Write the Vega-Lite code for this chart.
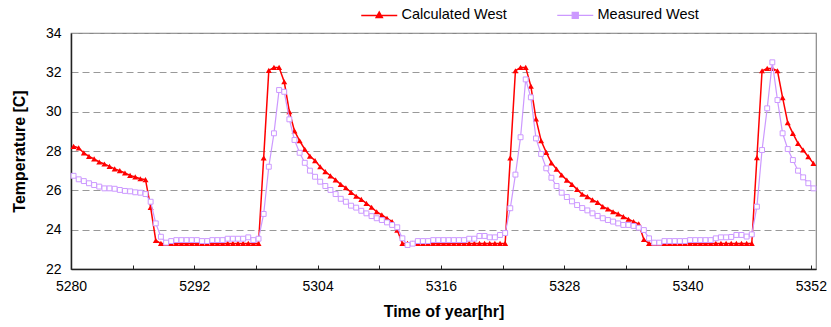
{
"$schema": "https://vega.github.io/schema/vega-lite/v6.json",
"width": 745, "height": 236,
"autosize": {"type": "none"},
"padding": {"left": 71, "top": 33, "right": 15, "bottom": 58},
"background": "white",
"config": {"font": "Liberation Sans", "view": {"stroke": "#888888", "strokeWidth": 1.2}},
"datasets": {
"calc": [
{"t":5280.25,"v":28.24},{"t":5280.75,"v":28.16},{"t":5281.25,"v":27.9},{"t":5281.75,"v":27.73},{"t":5282.25,"v":27.6},{"t":5282.75,"v":27.44},{"t":5283.25,"v":27.34},{"t":5283.75,"v":27.22},{"t":5284.25,"v":27.09},{"t":5284.75,"v":27.0},{"t":5285.25,"v":26.88},{"t":5285.75,"v":26.76},{"t":5286.25,"v":26.68},{"t":5286.75,"v":26.59},{"t":5287.25,"v":26.54},{"t":5287.75,"v":25.13},{"t":5288.25,"v":23.45},
{"t":5288.75,"v":23.3},{"t":5289.25,"v":23.3},{"t":5289.75,"v":23.3},{"t":5290.25,"v":23.3},{"t":5290.75,"v":23.3},{"t":5291.25,"v":23.3},{"t":5291.75,"v":23.3},{"t":5292.25,"v":23.3},{"t":5292.75,"v":23.3},{"t":5293.25,"v":23.3},{"t":5293.75,"v":23.3},{"t":5294.25,"v":23.3},{"t":5294.75,"v":23.3},{"t":5295.25,"v":23.3},{"t":5295.75,"v":23.3},{"t":5296.25,"v":23.3},{"t":5296.75,"v":23.3},{"t":5297.25,"v":23.3},{"t":5297.75,"v":23.3},{"t":5298.25,"v":23.3},
{"t":5298.75,"v":27.65},{"t":5299.25,"v":32.1},{"t":5299.75,"v":32.25},{"t":5300.25,"v":32.25},{"t":5300.75,"v":31.52},{"t":5301.25,"v":30.0},{"t":5301.75,"v":29.02},{"t":5302.25,"v":28.52},{"t":5302.75,"v":28.09},{"t":5303.25,"v":27.74},{"t":5303.75,"v":27.51},{"t":5304.25,"v":27.2},{"t":5304.75,"v":26.95},{"t":5305.25,"v":26.74},{"t":5305.75,"v":26.53},{"t":5306.25,"v":26.3},{"t":5306.75,"v":26.13},{"t":5307.25,"v":25.9},{"t":5307.75,"v":25.7},{"t":5308.25,"v":25.54},{"t":5308.75,"v":25.34},{"t":5309.25,"v":25.14},{"t":5309.75,"v":24.91},{"t":5310.25,"v":24.75},{"t":5310.75,"v":24.58},{"t":5311.25,"v":24.41},{"t":5311.75,"v":23.98},
{"t":5312.25,"v":23.3},{"t":5312.75,"v":23.3},{"t":5313.25,"v":23.3},{"t":5313.75,"v":23.3},{"t":5314.25,"v":23.3},{"t":5314.75,"v":23.3},{"t":5315.25,"v":23.3},{"t":5315.75,"v":23.3},{"t":5316.25,"v":23.3},{"t":5316.75,"v":23.3},{"t":5317.25,"v":23.3},{"t":5317.75,"v":23.3},{"t":5318.25,"v":23.3},{"t":5318.75,"v":23.3},{"t":5319.25,"v":23.3},{"t":5319.75,"v":23.3},{"t":5320.25,"v":23.3},{"t":5320.75,"v":23.3},{"t":5321.25,"v":23.3},{"t":5321.75,"v":23.3},{"t":5322.25,"v":23.3},
{"t":5322.75,"v":27.65},{"t":5323.25,"v":32.08},{"t":5323.75,"v":32.25},{"t":5324.25,"v":32.25},{"t":5324.75,"v":31.3},{"t":5325.25,"v":29.63},{"t":5325.75,"v":28.52},{"t":5326.25,"v":27.93},{"t":5326.75,"v":27.4},{"t":5327.25,"v":27.08},{"t":5327.75,"v":26.78},{"t":5328.25,"v":26.52},{"t":5328.75,"v":26.3},{"t":5329.25,"v":26.05},{"t":5329.75,"v":25.8},{"t":5330.25,"v":25.68},{"t":5330.75,"v":25.51},{"t":5331.25,"v":25.39},{"t":5331.75,"v":25.17},{"t":5332.25,"v":25.05},{"t":5332.75,"v":24.91},{"t":5333.25,"v":24.8},{"t":5333.75,"v":24.66},{"t":5334.25,"v":24.53},{"t":5334.75,"v":24.41},{"t":5335.25,"v":24.29},{"t":5335.75,"v":23.5},
{"t":5336.25,"v":23.3},{"t":5336.75,"v":23.3},{"t":5337.25,"v":23.3},{"t":5337.75,"v":23.3},{"t":5338.25,"v":23.3},{"t":5338.75,"v":23.3},{"t":5339.25,"v":23.3},{"t":5339.75,"v":23.3},{"t":5340.25,"v":23.3},{"t":5340.75,"v":23.3},{"t":5341.25,"v":23.3},{"t":5341.75,"v":23.3},{"t":5342.25,"v":23.3},{"t":5342.75,"v":23.3},{"t":5343.25,"v":23.3},{"t":5343.75,"v":23.3},{"t":5344.25,"v":23.3},{"t":5344.75,"v":23.3},{"t":5345.25,"v":23.3},{"t":5345.75,"v":23.3},{"t":5346.25,"v":23.3},
{"t":5346.75,"v":27.66},{"t":5347.25,"v":32.08},{"t":5347.75,"v":32.2},{"t":5348.25,"v":32.2},{"t":5348.75,"v":32.08},{"t":5349.25,"v":30.71},{"t":5349.75,"v":29.44},{"t":5350.25,"v":28.9},{"t":5350.75,"v":28.39},{"t":5351.25,"v":28.05},{"t":5351.75,"v":27.71},{"t":5352.25,"v":27.37}
],
"meas": [
{"t":5280.25,"v":26.74},{"t":5280.75,"v":26.56},{"t":5281.25,"v":26.47},{"t":5281.75,"v":26.36},{"t":5282.25,"v":26.27},{"t":5282.75,"v":26.19},{"t":5283.25,"v":26.1},{"t":5283.75,"v":26.1},{"t":5284.25,"v":26.08},{"t":5284.75,"v":26.02},{"t":5285.25,"v":25.97},{"t":5285.75,"v":25.95},{"t":5286.25,"v":25.9},{"t":5286.75,"v":25.88},{"t":5287.25,"v":25.81},{"t":5287.75,"v":25.42},{"t":5288.25,"v":24.32},{"t":5288.75,"v":23.64},{"t":5289.25,"v":23.34},{"t":5289.75,"v":23.42},{"t":5290.25,"v":23.47},{"t":5290.75,"v":23.47},{"t":5291.25,"v":23.47},{"t":5291.75,"v":23.47},{"t":5292.25,"v":23.47},{"t":5292.75,"v":23.42},{"t":5293.25,"v":23.42},{"t":5293.75,"v":23.47},{"t":5294.25,"v":23.47},{"t":5294.75,"v":23.47},{"t":5295.25,"v":23.54},{"t":5295.75,"v":23.54},{"t":5296.25,"v":23.54},{"t":5296.75,"v":23.54},{"t":5297.25,"v":23.61},{"t":5297.75,"v":23.47},{"t":5298.25,"v":23.54},
{"t":5298.75,"v":24.8},{"t":5299.25,"v":27.2},{"t":5299.75,"v":28.9},{"t":5300.25,"v":31.1},{"t":5300.75,"v":31.01},{"t":5301.25,"v":29.61},{"t":5301.75,"v":28.56},{"t":5302.25,"v":27.91},{"t":5302.75,"v":27.4},{"t":5303.25,"v":27.0},{"t":5303.75,"v":26.69},{"t":5304.25,"v":26.44},{"t":5304.75,"v":26.22},{"t":5305.25,"v":26.02},{"t":5305.75,"v":25.81},{"t":5306.25,"v":25.57},{"t":5306.75,"v":25.42},{"t":5307.25,"v":25.22},{"t":5307.75,"v":25.12},{"t":5308.25,"v":24.96},{"t":5308.75,"v":24.83},{"t":5309.25,"v":24.69},{"t":5309.75,"v":24.58},{"t":5310.25,"v":24.49},{"t":5310.75,"v":24.37},{"t":5311.25,"v":24.24},{"t":5311.75,"v":24.12},
{"t":5312.25,"v":23.56},{"t":5312.75,"v":23.22},{"t":5313.25,"v":23.29},{"t":5313.75,"v":23.42},{"t":5314.25,"v":23.42},{"t":5314.75,"v":23.42},{"t":5315.25,"v":23.47},{"t":5315.75,"v":23.47},{"t":5316.25,"v":23.47},{"t":5316.75,"v":23.47},{"t":5317.25,"v":23.47},{"t":5317.75,"v":23.47},{"t":5318.25,"v":23.47},{"t":5318.75,"v":23.54},{"t":5319.25,"v":23.54},{"t":5319.75,"v":23.68},{"t":5320.25,"v":23.68},{"t":5320.75,"v":23.61},{"t":5321.25,"v":23.61},{"t":5321.75,"v":23.73},{"t":5322.25,"v":23.83},
{"t":5322.75,"v":25.09},{"t":5323.25,"v":26.8},{"t":5323.75,"v":28.7},{"t":5324.25,"v":31.64},{"t":5324.75,"v":30.73},{"t":5325.25,"v":28.64},{"t":5325.75,"v":27.85},{"t":5326.25,"v":27.12},{"t":5326.75,"v":26.64},{"t":5327.25,"v":26.22},{"t":5327.75,"v":25.88},{"t":5328.25,"v":25.66},{"t":5328.75,"v":25.44},{"t":5329.25,"v":25.25},{"t":5329.75,"v":25.1},{"t":5330.25,"v":24.98},{"t":5330.75,"v":24.83},{"t":5331.25,"v":24.7},{"t":5331.75,"v":24.58},{"t":5332.25,"v":24.49},{"t":5332.75,"v":24.41},{"t":5333.25,"v":24.32},{"t":5333.75,"v":24.24},{"t":5334.25,"v":24.24},{"t":5334.75,"v":24.19},{"t":5335.25,"v":24.1},{"t":5335.75,"v":23.98},
{"t":5336.25,"v":23.56},{"t":5336.75,"v":23.34},{"t":5337.25,"v":23.34},{"t":5337.75,"v":23.42},{"t":5338.25,"v":23.42},{"t":5338.75,"v":23.42},{"t":5339.25,"v":23.42},{"t":5339.75,"v":23.42},{"t":5340.25,"v":23.47},{"t":5340.75,"v":23.47},{"t":5341.25,"v":23.47},{"t":5341.75,"v":23.47},{"t":5342.25,"v":23.47},{"t":5342.75,"v":23.56},{"t":5343.25,"v":23.61},{"t":5343.75,"v":23.61},{"t":5344.25,"v":23.63},{"t":5344.75,"v":23.73},{"t":5345.25,"v":23.73},{"t":5345.75,"v":23.65},{"t":5346.25,"v":23.76},
{"t":5346.75,"v":25.17},{"t":5347.25,"v":28.05},{"t":5347.75,"v":30.17},{"t":5348.25,"v":32.51},{"t":5348.75,"v":30.59},{"t":5349.25,"v":28.9},{"t":5349.75,"v":28.1},{"t":5350.25,"v":27.54},{"t":5350.75,"v":27.0},{"t":5351.25,"v":26.66},{"t":5351.75,"v":26.36},{"t":5352.25,"v":26.1}
]
},
"encoding": {
  "x": {"field": "t", "type": "quantitative", "scale": {"domain": [5280, 5352.5], "nice": false, "zero": false},
    "axis": {"values": [5280,5286,5292,5298,5304,5310,5316,5322,5328,5334,5340,5346,5352], "labelExpr": "datum.value % 12 === 0 ? datum.label : ''", "format": "d", "grid": false, "domainColor": "#222222", "domainWidth": 1.5, "tickColor": "#222222", "tickSize": -4, "tickWidth": 1, "labelFontSize": 14, "labelColor": "#000000", "labelPadding": 14, "labelFlush": false, "title": "Time of year[hr]", "titleFontSize": 16, "titleFontWeight": "bold", "titleColor": "#000000", "titlePadding": 10}},
  "y": {"field": "v", "type": "quantitative", "scale": {"domain": [22, 34], "nice": false, "zero": false},
    "axis": {"values": [22,24,26,28,30,32,34], "grid": true, "gridColor": "#999999", "gridDash": [7,4], "gridWidth": 1, "ticks": false, "tickSize": 0, "domainColor": "#222222", "domainWidth": 1.5, "labelFontSize": 14, "labelColor": "#000000", "labelPadding": 10, "title": "Temperature [C]", "titleFontSize": 16, "titleFontWeight": "bold", "titleColor": "#000000", "titlePadding": 18}}
},
"layer": [
  {"data": {"name": "calc"},
   "mark": {"type": "line", "strokeWidth": 1.5, "point": {"shape": "triangle-up", "filled": true, "size": 36}},
   "encoding": {"color": {"datum": "Calculated West", "type": "nominal",
     "scale": {"domain": ["Calculated West", "Measured West"], "range": ["#FF0000", "#CC99FF"]},
     "legend": {"orient": "none", "legendX": 307, "legendY": -25, "direction": "horizontal", "title": null, "padding": 0,
       "symbolSize": 1296, "symbolStrokeWidth": 1.5, "symbolOffset": -6, "labelFontSize": 14.5, "labelColor": "#000000", "labelOffset": 15, "columnPadding": 47,
       "encode": {"symbols": {"update": {
         "shape": {"signal": "datum.value === 'Calculated West' ? 'M-1,0H1M0,-0.18L0.17,0.12L-0.17,0.12Z' : 'M-1,0H-0.17M0.17,0H1M-0.17,-0.17H0.17V0.17H-0.17Z'"},
         "fill": {"signal": "datum.value === 'Calculated West' ? '#FF0000' : '#FFFFFF'"},
         "stroke": {"signal": "datum.value === 'Calculated West' ? '#FF0000' : '#CC99FF'"},
         "strokeWidth": {"signal": "datum.value === 'Calculated West' ? 1.5 : 1.2"},
         "opacity": {"value": 1}, "fillOpacity": {"value": 1}, "strokeOpacity": {"value": 1}}}}}}}},
  {"data": {"name": "meas"},
   "mark": {"type": "line", "strokeWidth": 1.2, "point": {"shape": "square", "filled": false, "fill": "#FFFFFF", "size": 24, "strokeWidth": 1}},
   "encoding": {"color": {"datum": "Measured West", "type": "nominal"}}}
]
}
